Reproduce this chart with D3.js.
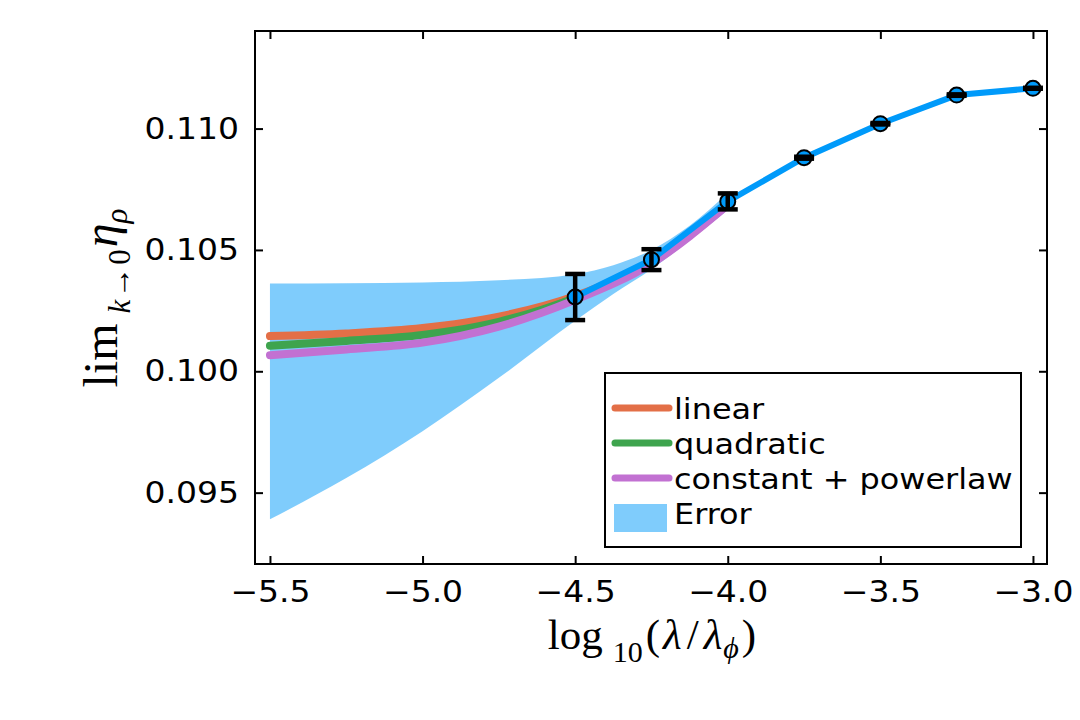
<!DOCTYPE html>
<html>
<head>
<meta charset="utf-8">
<script src="https://cdn.jsdelivr.net/npm/d3@7"></script>
<style>
  body { margin: 0; background: #fff; }
  .tick text { font-family: "DejaVu Sans", sans-serif; font-size: 30px; fill: #000; }
</style>
</head>
<body>
<div id="chart"></div>
<script>
// measured points (log10 of lambda ratio vs limit value)
const dataX = [-4.5, -4.25, -4.0, -3.75, -3.5, -3.25, -3.0];
const dataY = [0.10306, 0.10460, 0.10700, 0.10880, 0.11020, 0.11138, 0.11166];
const dataErr = [0.00095, 0.00043, 0.00033, 0.00004, 0.00003, 0.00003, 0.00002];

// extrapolation fits
const fitX = [-5.5, -5.25, -5.0, -4.75, -4.5, -4.25, -4.0];
const linearY = [0.10145, 0.10156, 0.10178, 0.10225, 0.10310, 0.10452, 0.10690];
const quadraticY = [0.10105, 0.10125, 0.10150, 0.10204, 0.10302, 0.10449, 0.10688];
const powerlawY = [0.10066, 0.10090, 0.10118, 0.10184, 0.10294, 0.10444, 0.10685];

// error band
const bandX = [-5.5, -5.25, -5.0, -4.75, -4.5, -4.375, -4.25, -4.125, -4.0];
const bandLo = [0.09390, 0.09560, 0.09753, 0.09973, 0.10208, 0.10318, 0.10420, 0.10540, 0.10665];
const bandHi = [0.10362, 0.10363, 0.10366, 0.10375, 0.10400, 0.10437, 0.10500, 0.10600, 0.10735];

const xTicks = [-5.5, -5.0, -4.5, -4.0, -3.5, -3.0];
const yTicks = [0.095, 0.100, 0.105, 0.110];

const legendNames = ["linear", "quadratic", "constant + powerlaw", "Error"];
const colors = { data: "#009AFA", linear: "#E36F47", quadratic: "#3EA44E", powerlaw: "#C271D2" };

var W = 1080, H = 720;
var box = { left: 255, right: 1047, top: 31, bottom: 564 };
var stretch = 1.1; // the reference glyphs are a bit wider than DejaVu Sans

var svg = d3.select("#chart").append("svg")
    .attr("width", W)
    .attr("height", H);

var x = d3.scaleLinear().domain([-5.549, -2.954]).range([box.left, box.right]);
var y = d3.scaleLinear().domain([0.09206, 0.11402]).range([box.bottom, box.top]);

// band
var area = d3.area()
    .x((d, i) => x(bandX[i]))
    .y0((d, i) => y(bandLo[i]))
    .y1((d, i) => y(bandHi[i]))
    .curve(d3.curveMonotoneX);
svg.append("path")
    .datum(bandX)
    .attr("d", area)
    .attr("fill", colors.data)
    .attr("fill-opacity", 0.5);

// fit curves
var fits = [
    { vals: linearY, color: colors.linear },
    { vals: quadraticY, color: colors.quadratic },
    { vals: powerlawY, color: colors.powerlaw }
];
fits.forEach(function (f) {
    var line = d3.line()
        .x((d, i) => x(fitX[i]))
        .y(d => y(d))
        .curve(d3.curveMonotoneX);
    svg.append("path")
        .datum(f.vals)
        .attr("d", line)
        .attr("fill", "none")
        .attr("stroke", f.color)
        .attr("stroke-width", 8)
        .attr("stroke-linecap", "round");
});

// data line
var dataLine = d3.line()
    .x((d, i) => x(dataX[i]))
    .y(d => y(d));
svg.append("path")
    .datum(dataY)
    .attr("d", dataLine)
    .attr("fill", "none")
    .attr("stroke", colors.data)
    .attr("stroke-width", 6)
    .attr("stroke-linejoin", "round");

svg.append("g").selectAll("circle")
    .data(dataY)
    .enter().append("circle")
    .attr("cx", (d, i) => x(dataX[i]))
    .attr("cy", d => y(d))
    .attr("r", 7.5)
    .attr("fill", colors.data)
    .attr("stroke", "#000")
    .attr("stroke-width", 2);

// error bars
var eb = svg.append("g").attr("stroke", "#000").attr("stroke-width", 4.5);
dataY.forEach(function (v, i) {
    var cx = x(dataX[i]), lo = y(v - dataErr[i]), hi = y(v + dataErr[i]);
    eb.append("line").attr("x1", cx).attr("x2", cx).attr("y1", lo).attr("y2", hi);
    eb.append("line").attr("x1", cx - 10).attr("x2", cx + 10).attr("y1", lo).attr("y2", lo);
    eb.append("line").attr("x1", cx - 10).attr("x2", cx + 10).attr("y1", hi).attr("y2", hi);
});

// axes, ticks pointing inward on all four sides
var fmtX = d3.format(".1f"), fmtY = d3.format(".3f");
var axes = [
    { ax: d3.axisBottom(x).tickValues(xTicks).tickFormat(fmtX).tickPadding(17), t: `translate(0,${box.bottom})` },
    { ax: d3.axisTop(x).tickValues(xTicks).tickFormat(""), t: `translate(0,${box.top})` },
    { ax: d3.axisLeft(y).tickValues(yTicks).tickFormat(fmtY).tickPadding(16), t: `translate(${box.left},0)`, left: true },
    { ax: d3.axisRight(y).tickValues(yTicks).tickFormat(""), t: `translate(${box.right},0)` }
];
axes.forEach(function (a) {
    var g = svg.append("g")
        .attr("transform", a.t)
        .call(a.ax.tickSizeInner(-8).tickSizeOuter(0));
    g.select(".domain").remove();
    g.selectAll(".tick line").attr("stroke", "#000").attr("stroke-width", 2);
    g.selectAll(".tick text").attr("transform", `scale(${stretch},1)`);
    if (a.left) g.selectAll(".tick text").attr("x", -16 / stretch);
});

svg.append("rect")
    .attr("x", box.left).attr("y", box.top)
    .attr("width", box.right - box.left).attr("height", box.bottom - box.top)
    .attr("fill", "none").attr("stroke", "#000").attr("stroke-width", 2);

// legend
var leg = svg.append("g").attr("transform", "translate(605,373)");
leg.append("rect")
    .attr("width", 416).attr("height", 174)
    .attr("fill", "#fff").attr("stroke", "#000").attr("stroke-width", 2);
var legColors = [colors.linear, colors.quadratic, colors.powerlaw];
legendNames.forEach(function (name, i) {
    var cy = 35 + i * 35;
    if (i < 3) {
        leg.append("line")
            .attr("x1", 10).attr("x2", 64).attr("y1", cy).attr("y2", cy)
            .attr("stroke", legColors[i]).attr("stroke-width", 7)
            .attr("stroke-linecap", "round");
    } else {
        leg.append("rect")
            .attr("x", 9).attr("y", cy - 9).attr("width", 53).attr("height", 28)
            .attr("fill", colors.data).attr("fill-opacity", 0.5);
    }
    leg.append("text")
        .attr("transform", `translate(69,${cy + 11}) scale(${stretch},1)`)
        .attr("font-family", "DejaVu Sans")
        .attr("font-size", 29)
        .text(name);
});

// axis titles
var serif = "'Liberation Serif', 'DejaVu Serif', serif";
var xl = svg.append("text")
    .attr("x", 652).attr("y", 649)
    .attr("text-anchor", "middle")
    .attr("font-family", serif)
    .attr("font-size", 43);
xl.append("tspan").text("log");
xl.append("tspan").attr("font-size", 30).attr("dx", 10).attr("dy", 13).text("10");
xl.append("tspan").attr("dx", 3).attr("dy", -13).text("(");
xl.append("tspan").attr("font-style", "italic").attr("dx", 3).text("λ");
xl.append("tspan").attr("dx", 5).text("/");
xl.append("tspan").attr("font-style", "italic").attr("dx", 5).text("λ");
xl.append("tspan").attr("font-style", "italic").attr("font-size", 30).attr("dx", 1).attr("dy", 9).text("ϕ");
xl.append("tspan").attr("dx", 3).attr("dy", -9).text(")");

var yl = svg.append("text")
    .attr("transform", "translate(117,298) rotate(-90)")
    .attr("text-anchor", "middle")
    .attr("font-family", serif)
    .attr("font-size", 48);
yl.append("tspan").text("lim");
yl.append("tspan").attr("font-size", 31).attr("font-style", "italic").attr("dx", 10).attr("dy", 13).text("k");
yl.append("tspan").attr("font-size", 31).attr("dx", 2).text("→");
yl.append("tspan").attr("font-size", 31).attr("dx", 2).text("0");
yl.append("tspan").attr("font-style", "italic").attr("dx", 2).attr("dy", -13).text("η");
yl.append("tspan").attr("font-size", 31).attr("font-style", "italic").attr("dy", 10).text("ρ");
</script>
</body>
</html>
